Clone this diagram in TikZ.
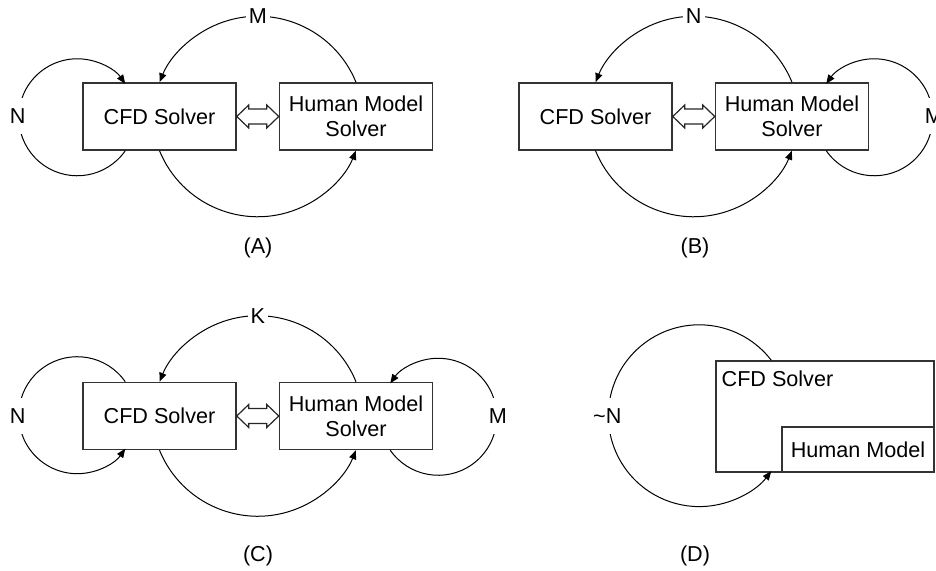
\documentclass[tikz,border=0pt]{standalone}
\usepackage{fontspec}
\setmainfont{Liberation Sans}
\usetikzlibrary{arrows.meta,calc}
\newcommand\dblarr[2]{%
  \draw[dblarrow] (#1.east) -- ++(12,11.5) -- ++(0,-4) -- ($(#2.west)+(-12,7.5)$) -- ++(0,4) -- (#2.west)
    -- ++(-12,-11.5) -- ++(0,4) -- ($(#1.east)+(12,-7.5)$) -- ++(0,-4) -- cycle;}
\begin{document}
\begin{tikzpicture}[x=0.5pt,y=0.5pt,
  font=\fontsize{10.8}{12.5}\selectfont,
  box/.style={draw=black!80,line width=0.75pt,inner sep=0pt,minimum width=76.5pt,minimum height=33.5pt,align=center},
  conn/.style={line width=0.5pt,-{Triangle[length=4.5pt,width=3.6pt]}},
  lbl/.style={fill=white,inner xsep=1.5pt,inner ysep=0pt,minimum height=18pt},
  dblarrow/.style={draw=black!85,line width=0.6pt,fill=white,line join=miter},
  captext/.style={inner sep=0pt}]
\useasboundingbox (0,0) rectangle (936,571);
\clip (0,0) rectangle (936,571);

% ---------- (A) ----------
\node[box] (cfdA) at (159.5,454.5) {CFD Solver};
\node[box] (hmA) at (356,454.5) {Human Model\\Solver};
\dblarr{cfdA}{hmA}
\draw[conn] (hmA.north) arc[start angle=22.2,end angle=157.8,radius=106.1];
\node[lbl] (mA) at ($($(cfdA.north)!0.5!(hmA.north)$)+(0,66)$) {M};
\draw[conn] (cfdA.south) arc[start angle=202.2,end angle=337.8,radius=106.1];
\draw[conn] ($(cfdA.south west)+(43,0)$) arc[start angle=-34.9,end angle=-325.1,radius=58.5];
\node[lbl] (nA) at ($(cfdA.west)+(-64.5,0)$) {N};
\node[captext] (capA) at (258,323) {(A)};

% ---------- (B) ----------
\node[box] (cfdB) at (595.5,454.5) {CFD Solver};
\node[box] (hmB) at (792,454.5) {Human Model\\Solver};
\dblarr{cfdB}{hmB}
\draw[conn] (hmB.north) arc[start angle=22.2,end angle=157.8,radius=106.1];
\node[lbl] (nB) at ($($(cfdB.north)!0.5!(hmB.north)$)+(0,66)$) {N};
\draw[conn] (cfdB.south) arc[start angle=202.2,end angle=337.8,radius=106.1];
\draw[conn] ($(hmB.south east)+(-43,0)$) arc[start angle=214.9,end angle=505.1,radius=58.5];
\node[lbl] (mB) at ($(hmB.east)+(64.5,0)$) {M};
\node[captext] (capB) at (695,323) {(B)};

% ---------- (C) ----------
\node[box] (cfdC) at (159.5,155) {CFD Solver};
\node[box] (hmC) at (356,155) {Human Model\\Solver};
\dblarr{cfdC}{hmC}
\draw[conn] (hmC.north) arc[start angle=22.2,end angle=157.8,radius=106.1];
\node[lbl] (kC) at ($($(cfdC.north)!0.5!(hmC.north)$)+(0,66)$) {K};
\draw[conn] (cfdC.south) arc[start angle=202.2,end angle=337.8,radius=106.1];
\draw[conn] ($(cfdC.north west)+(43,0)$) arc[start angle=34.9,end angle=325.1,radius=58.5];
\node[lbl] (nC) at ($(cfdC.west)+(-64.5,0)$) {N};
\draw[conn] ($(hmC.south east)+(-43,0)$) arc[start angle=214.9,end angle=505.1,radius=58.5];
\node[lbl] (mC) at ($(hmC.east)+(64.5,0)$) {M};
\node[captext] (capC) at (258,15) {(C)};

% ---------- (D) ----------
\node[box,minimum width=109pt,minimum height=55.5pt] (cfdD) at (825,154.5) {};
\node[anchor=base west,inner sep=0pt] (cfdDt) at ($(cfdD.north west)+(6,-26)$) {CFD Solver};
\node[box,minimum width=76pt,minimum height=22.5pt] (hmD) at (858,121.5) {Human Model};
\draw[conn] ($(cfdD.north west)+(56,0)$) arc[start angle=37.6,end angle=322.4,radius=90.9];
\node[lbl] (nD) at ($(cfdD.west)+(-108,0)$) {\textasciitilde N};
\node[captext] (capD) at (695,15) {(D)};
\end{tikzpicture}
\end{document}
